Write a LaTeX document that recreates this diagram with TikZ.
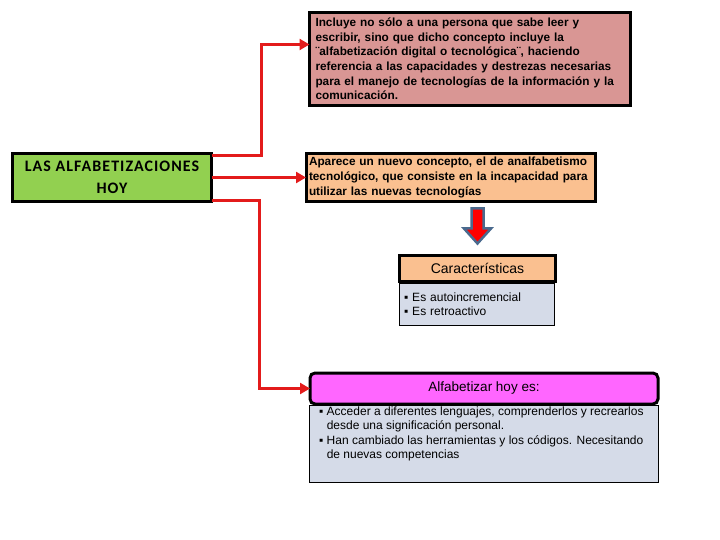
\documentclass[tikz,border=0pt]{standalone}
\usepackage{fontspec}
\setmainfont{Liberation Sans}
\newfontfamily\calibri[LetterSpace=6.5]{Carlito}
\usetikzlibrary{arrows.meta,positioning}
\definecolor{hoygreen}{HTML}{92D050}
\definecolor{defrose}{HTML}{D99694}
\definecolor{aparpeach}{HTML}{FAC090}
\definecolor{listgrey}{HTML}{D5DBE8}
\definecolor{alfpink}{HTML}{FF66FF}
\definecolor{connred}{HTML}{E31B1B}
\definecolor{arrowblue}{HTML}{4A6A8E}
\newcommand\sqb{▪}
\tikzset{
    every node/.style={inner sep=0pt,outer sep=0pt},
    bigbox/.style={draw=black,line width=3pt,anchor=north west},
    boldtext/.style={font=\bfseries\fontsize{11.8}{14.6}\selectfont,align=left},
    headbox/.style={draw=black,line width=2.5pt},
    listbox/.style={draw=black,line width=0.8pt,fill=listgrey,font=\fontsize{12}{14.5}\selectfont,align=left},
    conn/.style={draw=connred,line width=3pt,line join=miter,-{Triangle[length=10pt,width=11pt]}},
    blockarrow/.style={fill=red,draw=arrowblue,line width=2.5pt,line join=miter}
}
\begin{document}
\begin{tikzpicture}[x=1pt,y=-1pt]
\useasboundingbox (0,0) rectangle (720,540);

\node[bigbox,fill=hoygreen,minimum width=199pt,minimum height=48pt,align=center,
      font=\calibri\bfseries\fontsize{16}{22}\selectfont] (hoy) at (12.5,153.5)
    {LAS ALFABETIZACIONES\\HOY};

\node[bigbox,boldtext,fill=defrose,minimum width=321pt,minimum height=93pt,text width=309pt] (def) at (309.5,12.5)
    {Incluye no sólo a una persona que sabe leer y\\
     escribir, sino que dicho concepto incluye la\\
     ¨alfabetización digital o tecnológica¨, haciendo\\
     referencia a las capacidades y destrezas necesarias\\
     para el manejo de tecnologías de la información y la\\
     comunicación.};

\node[bigbox,boldtext,fill=aparpeach,minimum width=289pt,minimum height=48pt,text width=283pt] (apar) at (306,153.5)
    {Aparece un nuevo concepto, el de analfabetismo\\
     tecnológico, que consiste en la incapacidad para\\
     utilizar las nuevas tecnologías};

\node[headbox,fill=aparpeach,anchor=north west,minimum width=156pt,minimum height=26pt,
      font=\fontsize{14}{16}\selectfont] (carahead) at (399.5,255.5)
    {Características};
\node[listbox,below=1.5pt of carahead.south west,anchor=north west,minimum width=155pt,minimum height=42pt,
      text width=146pt] (caralist)
    {\sqb\ Es autoincremencial\\ \sqb\ Es retroactivo};

\node[headbox,fill=alfpink,line width=3pt,rounded corners=5pt,anchor=north west,minimum width=348pt,minimum height=31pt,
      font=\fontsize{13.5}{16}\selectfont] (alfhead) at (310,373)
    {Alfabetizar hoy es:};
\node[listbox,anchor=north west,minimum width=349pt] (alflist) at (309.5,405)
    {\parbox[c][77pt][t]{330pt}{\vspace{0pt}%
     \begin{tabular}{@{}l@{\hspace{3.5pt}}l@{}}
     \sqb & Acceder a diferentes lenguajes, comprenderlos y recrearlos\\
          & desde una significación personal.\\
     \sqb & Han cambiado las herramientas y los códigos. Necesitando\\
          & de nuevas competencias
     \end{tabular}}};

\coordinate (tip) at ([yshift=12pt]carahead.north);
\draw[blockarrow] (tip) -- ++(-13.5,-15) -- ++(7.5,0) -- ++(0,-20) -- ++(12,0) -- ++(0,20) -- ++(7.5,0) -- cycle;

\draw[conn] ([yshift=-2.5pt]hoy.north east) -- ++(49.5,0) |- ([yshift=14.5pt]def.west);
\draw[conn] (hoy.east) -- (apar.west);
\draw[conn] ([yshift=1pt]hoy.south east) -- ++(48,0) |- (alfhead.west);
\end{tikzpicture}
\end{document}
